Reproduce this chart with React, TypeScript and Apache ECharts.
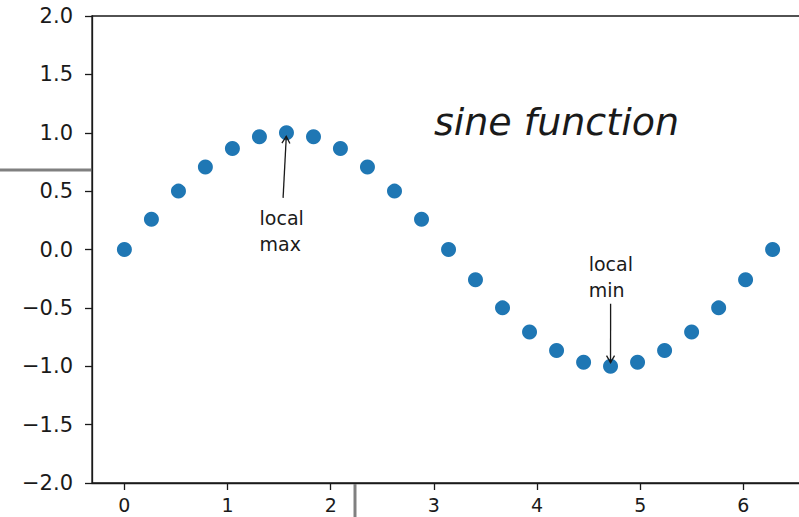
import { useEffect, useRef } from "react";
import * as echarts from "echarts";

// Sampled points of sin(x) over one period
const xValues = [
  0, 0.262, 0.524, 0.785, 1.047, 1.309, 1.571, 1.833, 2.094, 2.356, 2.618, 2.88, 3.142,
  3.403, 3.665, 3.927, 4.189, 4.451, 4.712, 4.974, 5.236, 5.498, 5.76, 6.021, 6.283,
];
const yValues = [
  0, 0.259, 0.5, 0.707, 0.866, 0.966, 1, 0.966, 0.866, 0.707, 0.5, 0.259, 0,
  -0.259, -0.5, -0.707, -0.866, -0.966, -1, -0.966, -0.866, -0.707, -0.5, -0.259, 0,
];

const xTicks = [0, 1, 2, 3, 4, 5, 6];
const yMin = -2;
const yMax = 2;
const yStep = 0.5;
const xMin = -0.314;
const xMax = 6.597;

const titleText = "sine function";
const titleAt = [3, 1];

const annotationLabels = ["local\nmax", "local\nmin"];
const annotationTargets = [
  [1.571, 1],
  [4.712, -1],
];
const annotationTextAt = [
  [1.31, 0],
  [4.5, -0.4],
];

const FONT = "'DejaVu Sans', 'Noto Sans', sans-serif";
const INK = "#1a1a1a";

export default function App() {
  const ref = useRef<HTMLDivElement>(null);

  useEffect(() => {
    if (!ref.current) return;
    const chart = echarts.init(ref.current, undefined, { renderer: "svg" });

    const fmt = (v: number) => v.toFixed(1).replace("-", "\u2212");

    chart.setOption({
      animation: false,
      backgroundColor: "#ffffff",
      grid: {
        left: 92,
        top: 16,
        width: 713,
        height: 467,
        outerBoundsMode: "none",
        containLabel: false,
        show: true,
        borderColor: INK,
        borderWidth: 1.3,
        backgroundColor: "transparent",
      },
      xAxis: {
        type: "value",
        min: xMin,
        max: xMax,
        axisLine: { show: true, onZero: false, lineStyle: { color: INK, width: 1.3 } },
        axisTick: { show: true, length: 7, customValues: xTicks, lineStyle: { color: INK, width: 1.3 } },
        axisLabel: {
          customValues: xTicks,
          margin: 14,
          fontFamily: FONT,
          fontSize: 19,
          lineHeight: 16,
          color: INK,
          formatter: (v: number) => String(Math.round(v)),
        },
        splitLine: { show: false },
      },
      yAxis: {
        type: "value",
        min: yMin,
        max: yMax,
        interval: yStep,
        axisLine: { show: true, onZero: false, lineStyle: { color: INK, width: 1.3 } },
        axisTick: { show: true, length: 7, lineStyle: { color: INK, width: 1.3 } },
        axisLabel: {
          margin: 19,
          fontFamily: FONT,
          fontSize: 21,
          color: INK,
          formatter: (v: number) => fmt(v),
          showMinLabel: true,
          showMaxLabel: true,
        },
        splitLine: { show: false },
      },
      series: [
        {
          type: "scatter",
          symbol: "circle",
          symbolSize: 15,
          itemStyle: { color: "#1f77b4", opacity: 1 },
          data: xValues.map((x, i) => [x, yValues[i]]),
          z: 3,
        },
      ],
    });

    const toPx = (p: number[]) => chart.convertToPixel({ gridIndex: 0 }, p) as number[];
    const elements: any[] = [];

    // Italic heading placed at its data anchor (baseline on the anchor)
    const tp = toPx(titleAt);
    elements.push({
      type: "text",
      z: 10,
      style: {
        text: titleText,
        x: tp[0],
        y: tp[1] - 11,
        font: `italic 38px ${FONT}`,
        fill: INK,
        align: "left",
        verticalAlign: "middle",
      },
    });

    // Annotations: two-line label plus an open-headed arrow to the point
    annotationLabels.forEach((label, i) => {
      const anchor = toPx(annotationTextAt[i]);
      const target = toPx(annotationTargets[i]);
      const lineH = 26;
      elements.push({
        type: "text",
        z: 10,
        style: {
          text: label,
          x: anchor[0],
          y: anchor[1] - 19,
          font: `19px ${FONT}`,
          lineHeight: lineH,
          fill: INK,
          align: "left",
          verticalAlign: "middle",
        },
      });
      const boxTop = anchor[1] - 48;
      const boxBottom = anchor[1] + 4;
      const cx = anchor[0] + 22;
      const cy = (boxTop + boxBottom) / 2;
      const edgeY = target[1] < cy ? boxTop : boxBottom;
      const t = (edgeY - cy) / (target[1] - cy);
      let sx = cx + (target[0] - cx) * t;
      let sy = edgeY;
      const dx0 = target[0] - sx;
      const dy0 = target[1] - sy;
      const len = Math.hypot(dx0, dy0);
      const ux = dx0 / len;
      const uy = dy0 / len;
      const shrink = 3.6;
      sx += ux * shrink;
      sy += uy * shrink;
      const ex = target[0] - ux * shrink;
      const ey = target[1] - uy * shrink;
      elements.push({
        type: "line",
        z: 10,
        shape: { x1: sx, y1: sy, x2: ex, y2: ey },
        style: { stroke: INK, lineWidth: 1.3 },
      });
      const hl = 7;
      const hw = 4;
      const bx = ex - ux * hl;
      const by = ey - uy * hl;
      elements.push({
        type: "polyline",
        z: 10,
        shape: {
          points: [
            [bx - uy * hw, by + ux * hw],
            [ex, ey],
            [bx + uy * hw, by - ux * hw],
          ],
        },
        style: { stroke: INK, lineWidth: 1.3, fill: "none" },
      });
    });

    // Grey guide strokes at the page edges
    elements.push({
      type: "line",
      z: 1,
      shape: { x1: 0, y1: 170, x2: 91, y2: 170 },
      style: { stroke: "#808080", lineWidth: 3 },
    });
    elements.push({
      type: "line",
      z: 1,
      shape: { x1: 355, y1: 484, x2: 355, y2: 517 },
      style: { stroke: "#808080", lineWidth: 3 },
    });

    chart.setOption({ graphic: { elements } });

    return () => chart.dispose();
  }, []);

  return (
    <div
      ref={ref}
      style={{ position: "fixed", left: 0, top: 0, width: 820, height: 517, background: "#fff" }}
    />
  );
}
